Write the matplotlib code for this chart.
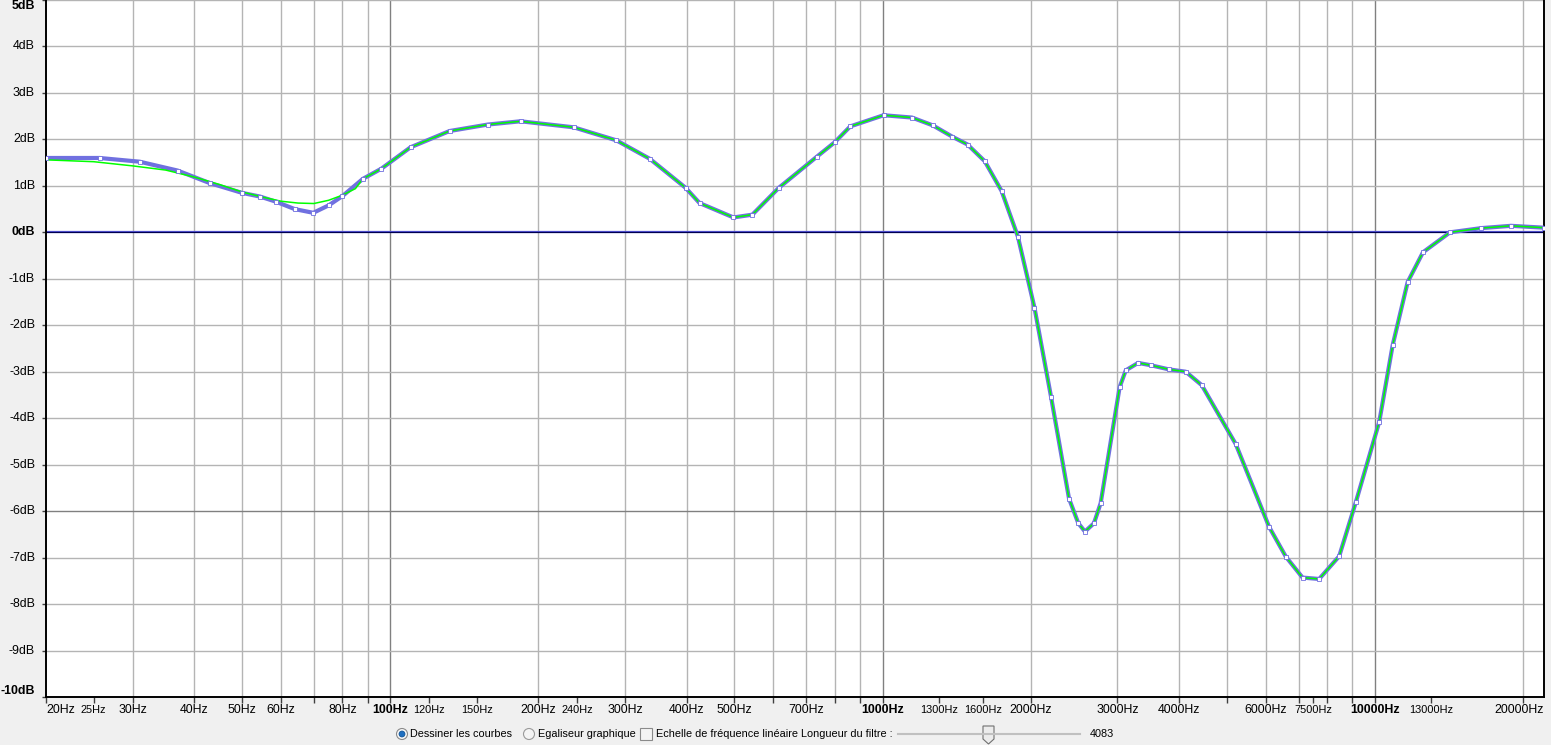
import numpy as np
import matplotlib.pyplot as plt
from matplotlib import transforms
from matplotlib.patches import Circle, Rectangle, Polygon

W, H = 1551, 745

# control points of the drawn curve (Hz, dB)
purple_hz = [20, 25.7, 31, 37, 43, 50, 54.4, 58.6, 64, 69.8, 75, 80, 88, 96, 110,
             132, 158, 184, 236, 288, 337, 398, 425, 498, 544, 616, 736, 800, 860,
             1005, 1148, 1266, 1385, 1488, 1613, 1745, 1883, 2035, 2200, 2392, 2498,
             2577, 2688, 2773, 3031, 3119, 3304, 3505, 3818, 4129, 4450, 5218, 6098,
             6593, 7129, 7705, 8462, 9150, 10204, 10865, 11654, 12520, 14208, 16420,
             18893, 22050]
purple_db = [1.60, 1.60, 1.52, 1.33, 1.06, 0.85, 0.77, 0.66, 0.50, 0.42, 0.58, 0.78,
             1.15, 1.37, 1.83, 2.18, 2.32, 2.39, 2.26, 1.98, 1.58, 0.96, 0.63, 0.32,
             0.38, 0.96, 1.63, 1.94, 2.28, 2.52, 2.47, 2.30, 2.06, 1.89, 1.53, 0.89,
             -0.09, -1.62, -3.55, -5.73, -6.26, -6.44, -6.26, -5.83, -3.33, -2.97,
             -2.81, -2.86, -2.95, -3.00, -3.29, -4.56, -6.34, -6.98, -7.43, -7.46,
             -6.97, -5.80, -4.08, -2.43, -1.07, -0.43, 0.00, 0.09, 0.14, 0.10]

# smoothed (green) response where it departs from the control curve
green_hz = [20, 25, 30, 35, 40, 45, 50, 55, 60, 65, 70, 75, 80, 85]
green_db = [1.56, 1.52, 1.43, 1.34, 1.19, 1.03, 0.87, 0.76, 0.67, 0.63, 0.62, 0.69,
            0.80, 0.94]

db_ticks = list(range(5, -11, -1))
bold_db = [5, 0, -10]
hz_labels = [20, 25, 30, 40, 50, 60, 80, 100, 120, 150, 200, 240, 300, 400, 500, 700,
             1000, 1300, 1600, 2000, 3000, 4000, 6000, 7500, 10000, 13000, 20000]
small_hz = [25, 120, 150, 240, 1300, 1600, 7500, 13000]
bold_hz = [100, 1000, 10000]

FONT = 'Liberation Sans'
GRID = '#b4b4b4'
DARK = '#808080'
PURPLE = '#7070e0'

fig = plt.figure(figsize=(W / 100, H / 100), dpi=100, facecolor='#f0f0f0')
ax = fig.add_axes([46 / W, 1 - 697 / H, (1544 - 46) / W, 697 / H])
ax.set_facecolor('white')
ax.set_xscale('log')
ax.set_xlim(20, 22050)
ax.set_ylim(-10, 5)

# grid
grid_hz = [k * 10 ** n for n in range(1, 5) for k in range(1, 10)]
grid_hz = [f for f in grid_hz if 20 < f < 22050]
for f in grid_hz:
    c = DARK if f in bold_hz else GRID
    ax.axvline(f, color=c, lw=1.0, zorder=1)
for d in db_ticks:
    if d == 0:
        continue
    ax.axhline(d, color=DARK if d == -6 else GRID, lw=1.0, zorder=1)
ax.axhline(0, color='#5050d0', lw=1.6, zorder=2)
ax.axhline(0.015, color='#000050', lw=0.8, zorder=2)

# curves
ax.plot(purple_hz, purple_db, color=PURPLE, lw=3.0, zorder=3, solid_joinstyle='round')
g_hz = green_hz + [f for f in purple_hz if f > 85]
g_db = green_db + [d for f, d in zip(purple_hz, purple_db) if f > 85]
ax.plot(g_hz, g_db, color='#00ff00', lw=1.1, zorder=4)
ax.plot(purple_hz, purple_db, ls='none', marker='s', ms=3.0, mfc='white',
        mec=PURPLE, mew=0.6, zorder=5)

# spines / ticks
for s in ['left', 'bottom', 'right']:
    ax.spines[s].set_color('black')
    ax.spines[s].set_linewidth(1.4)
ax.spines['top'].set_visible(False)
ax.set_xticks(hz_labels)
ax.set_xticks([f for f in grid_hz if f not in hz_labels], minor=True)
ax.set_xticklabels([])
ax.set_xticklabels([], minor=True)
ax.tick_params(axis='x', which='both', length=4, width=1, color='#404040',
               direction='out')
ax.set_yticks(db_ticks)
ax.set_yticklabels([])
ax.tick_params(axis='y', length=3, width=1, color='#404040', direction='out')

xt = transforms.offset_copy(ax.get_xaxis_transform(), fig, x=0, y=-13, units='dots')
for f in hz_labels:
    size = 7.9 if f in small_hz else 8.9
    weight = 'bold' if f in bold_hz else 'normal'
    x, ha = f, 'center'
    if f == 20:
        ha = 'left'
    if f == 20000:
        x, ha = 22050, 'right'
    ax.text(x, 0, f'{f}Hz', transform=xt, ha=ha, va='center', fontsize=size,
            fontweight=weight, family=FONT, color='black')

yt = transforms.offset_copy(ax.get_yaxis_transform(), fig, x=-11, y=0, units='dots')
for d in db_ticks:
    va = 'center'
    if d == 5:
        va = 'top'
    if d == -10:
        va = 'bottom'
    ax.text(0, d, f'{d}dB', transform=yt, ha='right', va=va, fontsize=8.9,
            fontweight='bold' if d in bold_db else 'normal', family=FONT,
            color='black')

# bottom controls (pixel coordinates)
ov = fig.add_axes([0, 0, 1, 1])
ov.set_xlim(0, W)
ov.set_ylim(H, 0)
ov.axis('off')
ov.patch.set_visible(False)

ov.add_patch(Circle((402, 734), 5.5, fc='#f8f8f8', ec='#8a8a8a', lw=0.8))
ov.add_patch(Circle((402, 734), 3.0, fc='#1f6fc0', ec='#0d4f90', lw=0.5))
ov.text(410, 734, 'Dessiner les courbes', ha='left', va='center', fontsize=7.8,
        family=FONT)
ov.add_patch(Circle((529, 734), 5.5, fc='#f4f4f4', ec='#9a9a9a', lw=0.8))
ov.text(538, 734, 'Egaliseur graphique', ha='left', va='center', fontsize=7.8,
        family=FONT)
ov.add_patch(Rectangle((640, 728), 12, 12, fc='#f4f4f4', ec='#8a8a8a', lw=0.8))
ov.text(656, 734, 'Echelle de fréquence linéaire Longueur du filtre :', ha='left',
        va='center', fontsize=7.8, family=FONT)
ov.plot([898, 1080], [734, 734], color='#c0c0c0', lw=1.5)
ov.add_patch(Polygon([[983, 726], [994, 726], [994, 739], [988.5, 744], [983, 739]],
                     closed=True, fc='#ececec', ec='#707070', lw=0.8))
ov.text(1090, 734, '4083', ha='left', va='center', fontsize=7.8, family=FONT)

fig.savefig('out.png', dpi=100, facecolor=fig.get_facecolor())
